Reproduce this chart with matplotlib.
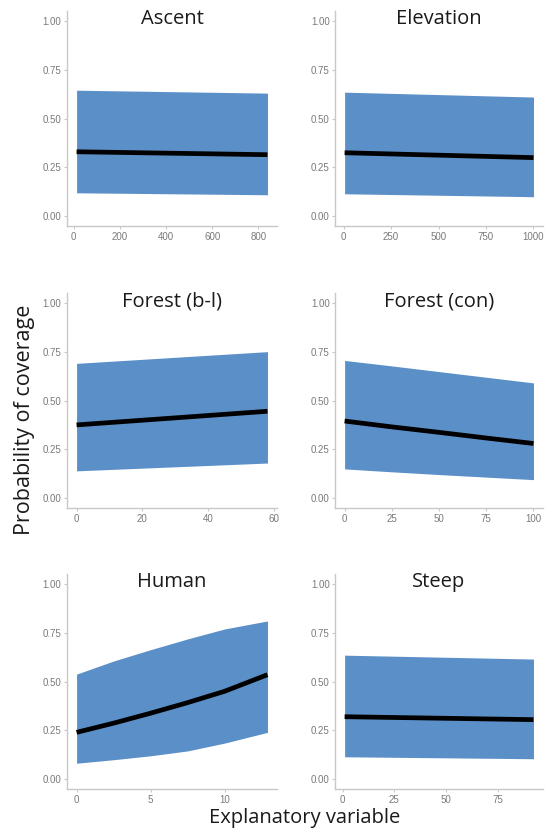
import matplotlib
matplotlib.use("Agg")
import matplotlib.pyplot as plt

# Panel titles and x tick positions
titles = ["Ascent", "Elevation", "Forest (b-l)", "Forest (con)", "Human", "Steep"]
xticks = [
    [0, 200, 400, 600, 800],
    [0, 250, 500, 750, 1000],
    [0, 20, 40, 60],
    [0, 25, 50, 75, 100],
    [0, 5, 10],
    [0, 25, 50, 75],
]

# Explanatory variable values
ascent_x = [12, 840]
elevation_x = [5, 1000]
forest_bl_x = [0, 58]
forest_con_x = [0, 25, 50, 75, 100]
human_x = [0, 2.5, 5, 7.5, 10, 12.9]
steep_x = [1, 92]

# Fitted probability of coverage
ascent_fit = [0.330, 0.315]
elevation_fit = [0.325, 0.300]
forest_bl_fit = [0.375, 0.445]
forest_con_fit = [0.395, 0.365, 0.337, 0.308, 0.280]
human_fit = [0.240, 0.287, 0.338, 0.392, 0.450, 0.535]
steep_fit = [0.320, 0.305]

# Confidence band
ascent_lo = [0.120, 0.110]
ascent_hi = [0.645, 0.630]
elevation_lo = [0.115, 0.100]
elevation_hi = [0.635, 0.610]
forest_bl_lo = [0.140, 0.180]
forest_bl_hi = [0.690, 0.750]
forest_con_lo = [0.150, 0.135, 0.121, 0.108, 0.095]
forest_con_hi = [0.705, 0.677, 0.648, 0.619, 0.590]
human_lo = [0.082, 0.100, 0.120, 0.145, 0.185, 0.240]
human_hi = [0.538, 0.605, 0.663, 0.718, 0.769, 0.810]
steep_lo = [0.115, 0.105]
steep_hi = [0.635, 0.615]

xs = [ascent_x, elevation_x, forest_bl_x, forest_con_x, human_x, steep_x]
fits = [ascent_fit, elevation_fit, forest_bl_fit, forest_con_fit, human_fit, steep_fit]
los = [ascent_lo, elevation_lo, forest_bl_lo, forest_con_lo, human_lo, steep_lo]
his = [ascent_hi, elevation_hi, forest_bl_hi, forest_con_hi, human_hi, steep_hi]

band_color = "#5b8fc7"
axis_gray = "#c8c8c8"
tick_gray = "#7a7a7a"

fig = plt.figure(figsize=(5.54, 8.31), dpi=100)

# axes boxes in figure fractions
col_left = [0.121, 0.605]
col_width = [0.379, 0.375]
row_bottom = [0.728, 0.3887, 0.0505]
row_height = 0.2587

for i in range(6):
    r, c = divmod(i, 2)
    ax = fig.add_axes([col_left[c], row_bottom[r], col_width[c], row_height])
    ax.fill_between(xs[i], los[i], his[i], color=band_color, linewidth=0)
    ax.plot(xs[i], fits[i], color="black", linewidth=3.4, solid_capstyle="butt")

    lo_x, hi_x = min(xs[i]), max(xs[i])
    pad = 0.05 * (hi_x - lo_x)
    ax.set_xlim(lo_x - pad, hi_x + pad)
    ax.set_ylim(-0.05, 1.05)
    ax.set_xticks(xticks[i])
    ax.set_yticks([0, 0.25, 0.5, 0.75, 1.0])
    ax.set_yticklabels(["0.00", "0.25", "0.50", "0.75", "1.00"])

    for side in ["top", "right"]:
        ax.spines[side].set_visible(False)
    for side in ["left", "bottom"]:
        ax.spines[side].set_color(axis_gray)
        ax.spines[side].set_linewidth(1.0)
    ax.tick_params(colors=axis_gray, labelcolor=tick_gray, labelsize=7,
                   length=2.5, width=0.8, pad=1.5)
    for lab in ax.get_xticklabels() + ax.get_yticklabels():
        lab.set_family("Liberation Sans")

    ax.text(0.5, 0.962, titles[i], transform=ax.transAxes, ha="center",
            va="center", fontsize=14.5, family="Open Sans", color="#1a1a1a")

fig.text(0.045, 0.4946, "Probability of coverage", rotation=90, ha="center",
         va="center", fontsize=15.5, family="Open Sans", color="#1a1a1a")
fig.text(0.55, 0.016, "Explanatory variable", ha="center", va="center",
         fontsize=14.5, family="Open Sans", color="#1a1a1a")

fig.savefig("out.png", dpi=100)
